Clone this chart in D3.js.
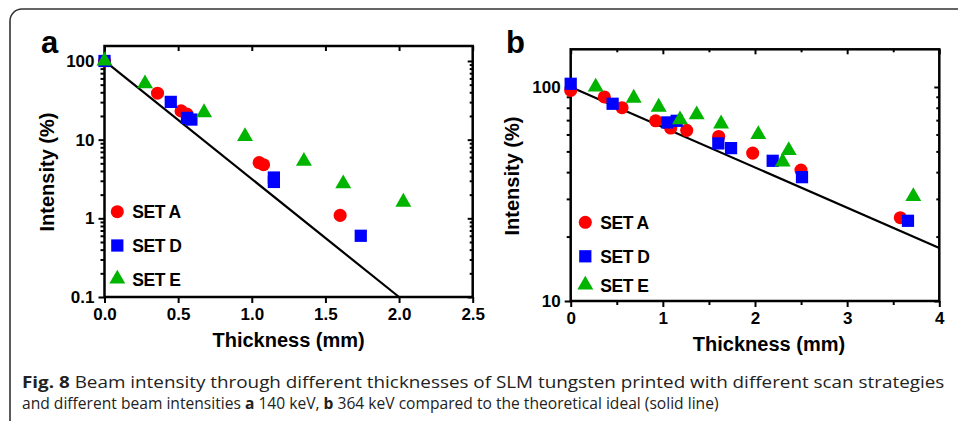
<!DOCTYPE html>
<html>
<head>
<meta charset="utf-8">
<script src="https://cdn.jsdelivr.net/npm/d3@7"></script>
<style>
  body { margin: 0; background: #fff; }
  svg text.chart { font-family: "Liberation Sans", Arial, sans-serif; font-weight: bold; }
  svg text.cap { font-family: "Open Sans", "Noto Sans", sans-serif; font-weight: normal; font-size: 15.5px; fill: #222; }
</style>
</head>
<body>
<svg id="chart" width="958" height="421"></svg>
<script>
// Panel a (140 keV) data: [thickness mm, intensity %]
const aSetA = [[0, 100], [0.36, 38.9], [0.52, 23.2], [0.56, 21.1], [1.05, 5.1], [1.08, 4.8], [1.60, 1.09]];
const aSetD = [[0, 100], [0.45, 30.2], [0.56, 18.9], [0.59, 18.0], [1.15, 3.3], [1.15, 2.9], [1.74, 0.60]];
const aSetE = [[0, 100], [0.275, 51.6], [0.676, 22.1], [0.954, 11.0], [1.354, 5.33], [1.621, 2.75], [2.029, 1.61]];
const aIdeal = [[0, 100], [2.0, 0.1]];

// Panel b (364 keV) data
const bSetA = [[0, 96.4], [0.365, 89.8], [0.557, 80.0], [0.922, 69.5], [1.085, 64.3], [1.259, 62.7],
  [1.606, 58.7], [1.975, 49.1], [2.499, 40.9], [3.577, 24.5]];
const bSetD = [[0, 103.5], [0.455, 83.5], [1.048, 68.3], [1.15, 69.5], [1.602, 54.5], [1.74, 51.8],
  [2.192, 45.2], [2.51, 37.9], [3.66, 23.7]];
const bSetE = [[0.271, 100], [0.684, 88.8], [0.955, 80.6], [1.186, 70.3], [1.367, 74.2], [1.632, 67.3],
  [2.036, 60.0], [2.300, 44.7], [2.366, 50.5], [3.718, 30.8]];
const bIdeal = [[0, 100], [4, 17.7]];

const seriesNames = ["SET A", "SET D", "SET E"];
const aXTicks = [0, 0.5, 1.0, 1.5, 2.0, 2.5];
const aYTicks = [0.1, 1, 10, 100];
const bXTicks = [0, 1, 2, 3, 4];
const bXMinor = [0.5, 1.5, 2.5, 3.5];
const bYTicks = [10, 100];

const colors = ["#ff0000", "#0000ff", "#00b400"];
const symbols = [d3.symbolCircle, d3.symbolSquare, d3.symbolTriangle];
const symSizes = [135, 150, 110];

const svg = d3.select("#chart");

// outer figure frame
svg.append("rect")
  .attr("x", 10).attr("y", 9)
  .attr("width", 1000).attr("height", 500)
  .attr("rx", 12)
  .attr("fill", "none")
  .attr("stroke", "#333")
  .attr("stroke-width", 1.6);

function drawPanel(opt) {
  const g = svg.append("g");
  const x = d3.scaleLinear().domain(opt.xDomain).range(opt.xRange);
  const y = d3.scaleLog().domain(opt.yDomain).range(opt.yRange);
  const minorY = y.ticks().filter((v) => !opt.yTicks.some((t) => Math.abs(t - v) < 1e-9));

  // bottom axis
  g.append("g")
    .attr("transform", `translate(0,${opt.yRange[0]})`)
    .call(d3.axisBottom(x).tickValues(opt.xTicks).tickSize(6).tickPadding(5).tickFormat(opt.xFormat));
  if (opt.xMinor) {
    g.append("g")
      .attr("transform", `translate(0,${opt.yRange[0]})`)
      .call(d3.axisBottom(x).tickValues(opt.xMinor).tickSize(4).tickFormat(""));
  }
  // top axis (inward)
  g.append("g")
    .attr("transform", `translate(0,${opt.yRange[1]})`)
    .call(d3.axisBottom(x).tickValues(opt.xTicks).tickSize(5).tickFormat(""));
  if (opt.xMinor) {
    g.append("g")
      .attr("transform", `translate(0,${opt.yRange[1]})`)
      .call(d3.axisBottom(x).tickValues(opt.xMinor).tickSize(3).tickFormat(""));
  }
  // left axis
  g.append("g")
    .attr("transform", `translate(${opt.xRange[0]},0)`)
    .call(d3.axisLeft(y).tickValues(opt.yTicks).tickSize(6).tickPadding(4).tickFormat((d) => d));
  g.append("g")
    .attr("transform", `translate(${opt.xRange[0]},0)`)
    .call(d3.axisLeft(y).tickValues(minorY).tickSize(4).tickFormat(""));
  // right axis (inward)
  g.append("g")
    .attr("transform", `translate(${opt.xRange[1]},0)`)
    .call(d3.axisLeft(y).tickValues(opt.yTicks).tickSize(5).tickFormat(""));
  g.append("g")
    .attr("transform", `translate(${opt.xRange[1]},0)`)
    .call(d3.axisLeft(y).tickValues(minorY).tickSize(3).tickFormat(""));

  g.selectAll(".domain").remove();
  g.selectAll(".tick line").attr("stroke", "#000").attr("stroke-width", 2);
  g.selectAll(".tick text").attr("class", "chart").attr("fill", "#000").style("font-size", "17px");

  // frame
  g.append("rect")
    .attr("x", opt.xRange[0]).attr("y", opt.yRange[1])
    .attr("width", opt.xRange[1] - opt.xRange[0])
    .attr("height", opt.yRange[0] - opt.yRange[1])
    .attr("fill", "none")
    .attr("stroke", "#000")
    .attr("stroke-width", 2.5);

  // theoretical ideal line
  const line = d3.line().x((d) => x(d[0])).y((d) => y(d[1]));
  g.append("path")
    .datum(opt.ideal)
    .attr("d", line)
    .attr("fill", "none")
    .attr("stroke", "#000")
    .attr("stroke-width", 2.2);

  // points
  opt.series.forEach((data, i) => {
    g.append("g")
      .selectAll("path")
      .data(data)
      .join("path")
      .attr("transform", (d) => `translate(${x(d[0])},${y(d[1])})`)
      .attr("d", d3.symbol(symbols[i], symSizes[i]))
      .attr("fill", colors[i]);
  });

  // legend
  seriesNames.forEach((name, i) => {
    const ly = opt.legendY[i];
    g.append("path")
      .attr("transform", `translate(${opt.legendX},${ly})`)
      .attr("d", d3.symbol(symbols[i], symSizes[i]))
      .attr("fill", colors[i]);
    g.append("text")
      .attr("class", "chart")
      .attr("x", opt.legendX + 15)
      .attr("y", ly + 6.5)
      .style("font-size", "17.5px")
      .style("letter-spacing", "-0.5px")
      .text(name);
  });

  // axis titles
  g.append("text")
    .attr("class", "chart")
    .attr("x", (opt.xRange[0] + opt.xRange[1]) / 2 + opt.xTitleDx)
    .attr("y", opt.xTitleY)
    .attr("text-anchor", "middle")
    .style("font-size", "20px")
    .text("Thickness (mm)");
  g.append("text")
    .attr("class", "chart")
    .attr("transform", `translate(${opt.yTitleX},${opt.yTitleY}) rotate(-90)`)
    .attr("text-anchor", "middle")
    .style("font-size", "20px")
    .text("Intensity (%)");

  // panel letter
  g.append("text")
    .attr("class", "chart")
    .attr("x", opt.letterX).attr("y", 53)
    .style("font-size", "31px")
    .text(opt.letter);
}

drawPanel({
  xDomain: [0, 2.5], xRange: [104.5, 472.7],
  yDomain: [0.1, 155], yRange: [297, 46],
  xTicks: aXTicks, yTicks: aYTicks,
  xFormat: d3.format(".1f"),
  ideal: aIdeal,
  series: [aSetA, aSetD, aSetE],
  legendX: 117.3, legendY: [211.7, 245.5, 279],
  xTitleDx: 0, xTitleY: 347,
  yTitleX: 54, yTitleY: 172,
  letterX: 41, letter: "a"
});

drawPanel({
  xDomain: [0, 4], xRange: [570.7, 939.3],
  yDomain: [10, 150], yRange: [301, 49.3],
  xTicks: bXTicks, xMinor: bXMinor, yTicks: bYTicks,
  xFormat: d3.format("d"),
  ideal: bIdeal,
  series: [bSetA, bSetD, bSetE],
  legendX: 585.3, legendY: [222.3, 256.3, 285],
  xTitleDx: 14, xTitleY: 351,
  yTitleX: 519, yTitleY: 176,
  letterX: 506, letter: "b"
});

// caption, squeezed horizontally to the width it has in the figure
function captionLine(parts, y, width) {
  const t = svg.append("text").attr("class", "cap");
  parts.forEach(([str, bold]) => {
    t.append("tspan").style("font-weight", bold ? "bold" : "normal").text(str);
  });
  const w = t.node().getComputedTextLength();
  t.attr("transform", `translate(22,${y}) scale(${width / w},1)`);
}

captionLine([["Fig. 8", true],
  [" Beam intensity through different thicknesses of SLM tungsten printed with different scan strategies", false]],
  388, 923);
captionLine([["and different beam intensities ", false], ["a", true], [" 140 keV, ", false], ["b", true],
  [" 364 keV compared to the theoretical ideal (solid line)", false]],
  409, 697);
</script>
</body>
</html>
